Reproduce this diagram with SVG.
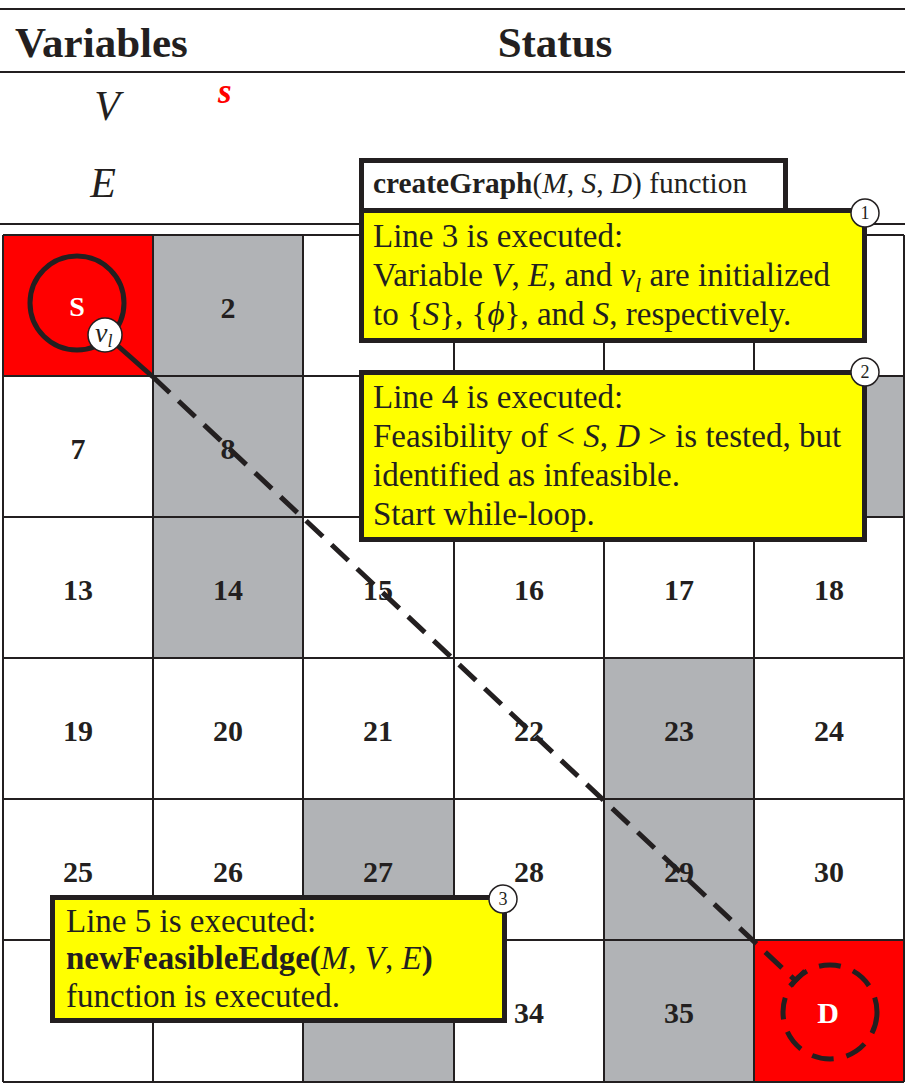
<svg xmlns="http://www.w3.org/2000/svg" width="912" height="1087" viewBox="0 0 912 1087">
<style>
.t{font-family:"Liberation Serif","Times New Roman",serif;fill:#231F20}
.hd{font-size:43px;font-weight:bold}
.num{font-size:30px;font-weight:bold;text-anchor:middle}
.rule{stroke:#231F20;stroke-width:2}
.gl{stroke:#231F20;stroke-width:2}
.gray{fill:#B1B3B6}
.red{fill:#FF0000}
.box{fill:#FFFF00;stroke:#231F20;stroke-width:5}
.bt{font-size:33px}
.i{font-style:italic}
.b{font-weight:bold}
.badge{fill:#FFFFFF;stroke:#231F20;stroke-width:1.5}
.bn{font-size:18px;text-anchor:middle}
</style>

<g id="header">
  <line class="rule" x1="0" y1="9" x2="905" y2="9"/>
  <text class="t hd" x="15" y="57">Variables</text>
  <text class="t hd" x="555" y="57" text-anchor="middle">Status</text>
  <line class="rule" x1="0" y1="72" x2="905" y2="72"/>
  <text class="t i" x="107" y="120" font-size="42" text-anchor="middle">V</text>
  <text class="t i b" x="218" y="103" font-size="35" style="fill:#FF0000">s</text>
  <text class="t i" x="103" y="197" font-size="42" text-anchor="middle">E</text>
  <line class="rule" x1="0" y1="224" x2="905" y2="224"/>
</g>

<g id="grid">
  <rect class="red" x="3" y="235" width="150" height="141"/>
  <rect class="gray" x="153" y="235" width="150" height="282"/>
  <rect class="gray" x="754" y="376" width="150" height="141"/>
  <rect class="gray" x="153" y="517" width="150" height="141"/>
  <rect class="gray" x="604" y="658" width="150" height="282"/>
  <rect class="gray" x="303" y="799" width="151" height="283"/>
  <rect class="gray" x="604" y="940" width="150" height="142"/>
  <rect class="red" x="754" y="940" width="150" height="142"/>
  <g class="gl">
    <line x1="3" y1="235" x2="904" y2="235"/>
    <line x1="3" y1="376" x2="904" y2="376"/>
    <line x1="3" y1="517" x2="904" y2="517"/>
    <line x1="3" y1="658" x2="904" y2="658"/>
    <line x1="3" y1="799" x2="904" y2="799"/>
    <line x1="3" y1="940" x2="904" y2="940"/>
    <line x1="3" y1="1082" x2="904" y2="1082"/>
    <line x1="3" y1="235" x2="3" y2="1082"/>
    <line x1="153" y1="235" x2="153" y2="1082"/>
    <line x1="303" y1="235" x2="303" y2="1082"/>
    <line x1="454" y1="235" x2="454" y2="1082"/>
    <line x1="604" y1="235" x2="604" y2="1082"/>
    <line x1="754" y1="235" x2="754" y2="1082"/>
    <line x1="904" y1="235" x2="904" y2="1082"/>
  </g>
  <g class="t num">
    <text x="228" y="318">2</text>
    <text x="78" y="459">7</text>
    <text x="228" y="459">8</text>
    <text x="78" y="600">13</text>
    <text x="228" y="600">14</text>
    <text x="378" y="600">15</text>
    <text x="529" y="600">16</text>
    <text x="679" y="600">17</text>
    <text x="829" y="600">18</text>
    <text x="78" y="741">19</text>
    <text x="228" y="741">20</text>
    <text x="378" y="741">21</text>
    <text x="529" y="741">22</text>
    <text x="679" y="741">23</text>
    <text x="829" y="741">24</text>
    <text x="78" y="882">25</text>
    <text x="228" y="882">26</text>
    <text x="378" y="882">27</text>
    <text x="529" y="882">28</text>
    <text x="679" y="882">29</text>
    <text x="829" y="882">30</text>
    <text x="529" y="1023">34</text>
    <text x="679" y="1023">35</text>
  </g>
</g>

<g id="node-S">
  <circle cx="77" cy="303" r="47" fill="none" stroke="#231F20" stroke-width="5"/>
  <text class="t b" x="77" y="316" font-size="28" text-anchor="middle" style="fill:#FFFFFF">S</text>
</g>

<g id="node-D">
  <circle cx="830" cy="1012" r="47" fill="none" stroke="#231F20" stroke-width="5" stroke-dasharray="22 13"/>
  <text class="t b" x="828" y="1023" font-size="30" text-anchor="middle" style="fill:#FFFFFF">D</text>
</g>

<g id="connectors" stroke="#231F20" stroke-width="5" fill="none">
  <path d="M118,346 L153,377"/>
  <path d="M153,377 L796,981" stroke-dasharray="23 12"/>
  <path d="M790,986 L805,971"/>
</g>

<g id="node-vl">
  <circle cx="105" cy="335" r="17" fill="#FFFFFF" stroke="#231F20" stroke-width="1.5"/>
  <text class="t i" x="95" y="342" font-size="28">v<tspan font-size="18" dy="5">l</tspan></text>
</g>

<g id="callout-createGraph">
  <rect x="361.5" y="160.5" width="424" height="60" fill="#FFFFFF" stroke="#231F20" stroke-width="5"/>
  <text class="t" x="373" y="193" font-size="29.4"><tspan class="b">createGraph</tspan>(<tspan class="i">M</tspan>, <tspan class="i">S</tspan>, <tspan class="i">D</tspan>) function</text>
</g>

<g id="callout-1">
  <rect class="box" x="361.5" y="210.5" width="503" height="130"/>
  <text class="t bt" x="373" y="247">Line 3 is executed:</text>
  <text class="t bt" x="373" y="286">Variable <tspan class="i">V</tspan>, <tspan class="i">E</tspan>, and <tspan class="i">v</tspan><tspan class="i" font-size="22" dy="6">l</tspan><tspan dy="-6"> are initialized</tspan></text>
  <text class="t bt" x="373" y="325">to {<tspan class="i">S</tspan>}, {<tspan class="i">ϕ</tspan>}, and <tspan class="i">S</tspan>, respectively.</text>
  <circle class="badge" cx="865" cy="213" r="14"/>
  <text class="t bn" x="865" y="219">1</text>
</g>

<g id="callout-2">
  <rect class="box" x="361.5" y="372.5" width="503" height="167"/>
  <text class="t bt" x="373" y="408">Line 4 is executed:</text>
  <text class="t bt" x="373" y="447">Feasibility of &lt; <tspan class="i">S</tspan>, <tspan class="i">D</tspan> &gt; is tested, but</text>
  <text class="t bt" x="373" y="486">identified as infeasible.</text>
  <text class="t bt" x="373" y="525">Start while-loop.</text>
  <circle class="badge" cx="865" cy="372" r="14"/>
  <text class="t bn" x="865" y="378">2</text>
</g>

<g id="callout-3">
  <rect class="box" x="52.5" y="897.5" width="452" height="123"/>
  <text class="t bt" x="66" y="932">Line 5 is executed:</text>
  <text class="t bt" x="66" y="969"><tspan class="b">newFeasibleEdge(</tspan><tspan class="i">M</tspan>, <tspan class="i">V</tspan>, <tspan class="i">E</tspan><tspan class="b">)</tspan></text>
  <text class="t bt" x="66" y="1007">function is executed.</text>
  <circle class="badge" cx="503" cy="899" r="14"/>
  <text class="t bn" x="503" y="905">3</text>
</g>
</svg>
